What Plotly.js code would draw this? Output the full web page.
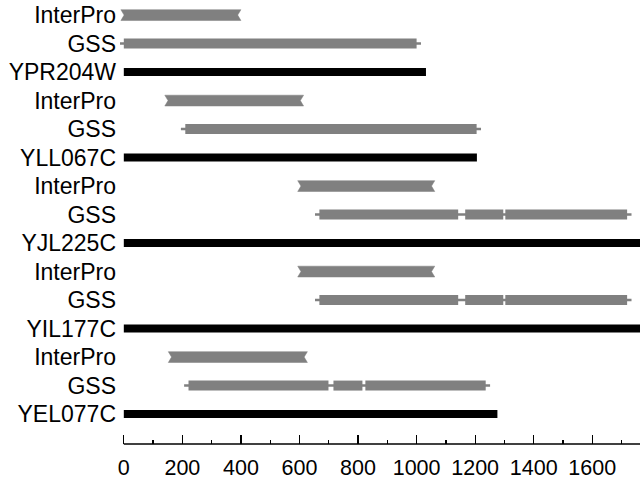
<!DOCTYPE html>
<html>
<head>
<meta charset="utf-8">
<script src="https://cdn.plot.ly/plotly-3.0.1.min.js"></script>
<style>html,body{margin:0;padding:0;background:#fff;}#chart{width:640px;height:483px;}</style>
</head>
<body>
<div id="chart"></div>
<script>
// Genes, listed top to bottom as drawn
const genes = ['YPR204W', 'YLL067C', 'YJL225C', 'YIL177C', 'YEL077C'];
const geneLength = [1032, 1206, 1800, 1800, 1276];

// InterPro domain ranges
const interproStart = [-10, 140, 594, 594, 152];
const interproEnd   = [400, 614, 1062, 1062, 627];

// GSS hit segments (gene index, start, end)
const gssGene  = [0, 1, 2, 2, 2, 3, 3, 3, 4, 4, 4];
const gssStart = [0, 210, 668, 1166, 1303, 668, 1166, 1303, 221, 716, 825];
const gssEnd   = [1000, 1205, 1142, 1296, 1719, 1142, 1296, 1719, 699, 815, 1236];

const xTicks = [0, 200, 400, 600, 800, 1000, 1200, 1400, 1600];

// ---- styling constants ----
const GRAY = '#808080';
const X_MAX = 1763, X_MIN = -13;
const THIN_EXT = 15;      // thin tail beyond GSS ends (data units)
const NOTCH = 11;         // InterPro notch depth (data units)
const HALF_H = 0.19;      // InterPro half height (rows)

const n = genes.length;
const rowOf = k => 3 * (n - 1 - k);

const traces = [];
const tickvals = [], ticktext = [];

for (let k = 0; k < n; k++) {
  const r = rowOf(k);
  tickvals.push(r, r + 1, r + 2);
  ticktext.push(genes[k], 'GSS', 'InterPro');

  // gene bar
  traces.push({x: [0, geneLength[k]], y: [r, r], mode: 'lines',
    line: {color: '#000', width: 8}, hoverinfo: 'skip'});

  // GSS thin line across the hits
  const segIdx = gssGene.map((g, i) => g === k ? i : -1).filter(i => i >= 0);
  const s0 = Math.min(...segIdx.map(i => gssStart[i]));
  const e0 = Math.max(...segIdx.map(i => gssEnd[i]));
  traces.push({x: [s0 - THIN_EXT, e0 + THIN_EXT], y: [r + 1, r + 1], mode: 'lines',
    line: {color: GRAY, width: 2.5}, hoverinfo: 'skip'});
  segIdx.forEach(i => {
    traces.push({x: [gssStart[i], gssEnd[i]], y: [r + 1, r + 1], mode: 'lines',
      line: {color: GRAY, width: 10}, hoverinfo: 'skip'});
  });

  // InterPro notched bar
  const a = interproStart[k], b = interproEnd[k], y = r + 2;
  traces.push({
    x: [a, b, b - NOTCH, b, a, a + NOTCH, a],
    y: [y + HALF_H, y + HALF_H, y, y - HALF_H, y - HALF_H, y, y + HALF_H],
    mode: 'lines', fill: 'toself', fillcolor: GRAY,
    line: {color: GRAY, width: 0.5}, hoverinfo: 'skip'
  });
}

const layout = {
  width: 640, height: 483,
  margin: {l: 120, r: 0, t: 0, b: 39},
  paper_bgcolor: '#fff', plot_bgcolor: '#fff',
  showlegend: false,
  font: {family: 'Liberation Sans, Arial, sans-serif', size: 23, color: '#000'},
  xaxis: {
    range: [X_MIN, X_MAX], showgrid: false, zeroline: false, showline: false,
    tickvals: xTicks, ticktext: xTicks.map(String),
    ticks: 'inside', ticklen: 9, tickwidth: 1.3, tickcolor: '#000',
    minor: {dtick: 100, tick0: 0, ticks: 'inside', ticklen: 4, tickwidth: 1.3, tickcolor: '#000'},
    tickfont: {size: 21.5}, ticklabelstandoff: 8
  },
  yaxis: {
    range: [-1.05, 14.53], showgrid: false, zeroline: false, showline: false,
    tickvals: tickvals, ticktext: ticktext, ticks: '',
    tickfont: {size: 23}, ticklabelstandoff: 3
  },
  shapes: [{type: 'line', xref: 'x', yref: 'paper', x0: 0, x1: X_MAX, y0: 0, y1: 0,
    line: {color: '#000', width: 1.3}}]
};

Plotly.newPlot('chart', traces, layout, {staticPlot: true});
</script>
</body>
</html>
